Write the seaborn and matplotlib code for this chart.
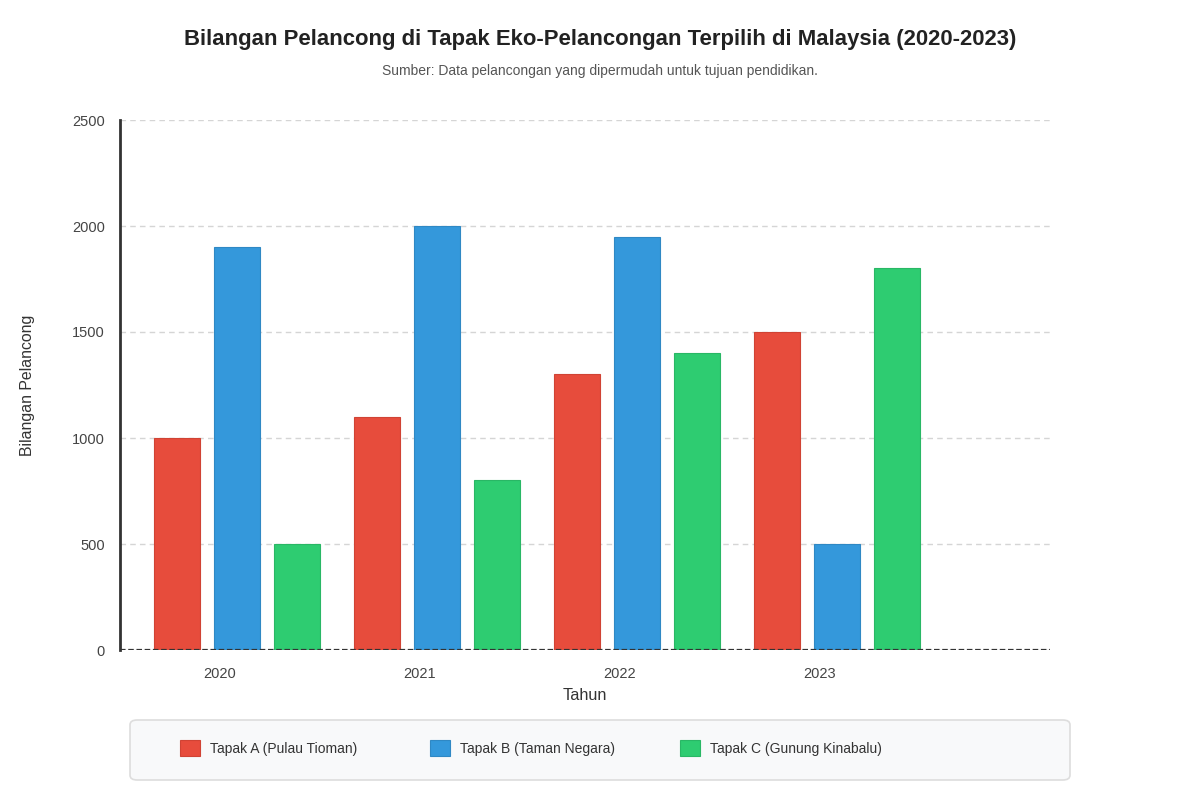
import numpy as np
import pandas as pd
import matplotlib.pyplot as plt
import seaborn as sns
from matplotlib.patches import FancyBboxPatch

# Data
years = ['2020', '2021', '2022', '2023']
sites = ['Tapak A (Pulau Tioman)', 'Tapak B (Taman Negara)', 'Tapak C (Gunung Kinabalu)']
tapak_a = [1000, 1100, 1300, 1500]
tapak_b = [1900, 2000, 1950, 500]
tapak_c = [500, 800, 1400, 1800]
colors = ['#e74c3c', '#3498db', '#2ecc71']
edges = ['#d04334', '#2f88c4', '#29b765']

df = pd.DataFrame({
    'Tahun': years * 3,
    'Tapak': [sites[0]] * 4 + [sites[1]] * 4 + [sites[2]] * 4,
    'Pelancong': tapak_a + tapak_b + tapak_c,
})

sns.set_style('white')
plt.rcParams['font.family'] = ['Liberation Sans', 'DejaVu Sans']

fig = plt.figure(figsize=(12, 8), dpi=100)
ax = fig.add_axes([0.1, 0.1875, 0.775, 0.6625])

sns.barplot(data=df, x='Tahun', y='Pelancong', hue='Tapak', order=years,
            hue_order=sites, palette=colors, saturation=1, width=0.9, gap=0.233,
            legend=False, ax=ax, zorder=3)

# darker outline per series
for cont, ec in zip(ax.containers, edges):
    for bar in cont:
        bar.set_edgecolor(ec)
        bar.set_linewidth(0.8)

# group of bars sits a little right of the year label
shift = 0.085
ax.set_xticks(np.arange(len(years)) - shift)
ax.set_xticklabels(years)
ax.set_xlim(-0.5 - shift, -0.5 - shift + 4.65)
ax.set_ylim(0, 2500)
ax.set_yticks(range(0, 2501, 500))

ax.grid(axis='y', color='#d5d5d5', linestyle=(0, (4, 3)), linewidth=1, zorder=0)
ax.grid(axis='x', visible=False)
for s in ['top', 'right', 'bottom']:
    ax.spines[s].set_visible(False)
ax.spines['left'].set_color('#333333')
ax.spines['left'].set_linewidth(2)
ax.axhline(0, color='#333333', linestyle=(0, (2.5, 1.2)), linewidth=1.6, zorder=4)

ax.tick_params(axis='both', length=0, labelsize=10.5, colors='#444444')
ax.tick_params(axis='y', pad=11)
ax.tick_params(axis='x', pad=12)
ax.set_xlabel('Tahun', fontsize=11.7, color='#333333', labelpad=5)
ax.set_ylabel('Bilangan Pelancong', fontsize=11.4, color='#333333')
ax.yaxis.set_label_coords(-85 / 930, 0.5)

fig.text(0.5, 1 - 40 / 800, 'Bilangan Pelancong di Tapak Eko-Pelancongan Terpilih di Malaysia (2020-2023)',
         ha='center', va='center', fontsize=15.9, fontweight='bold', color='#222222')
fig.text(0.5, 1 - 71 / 800, 'Sumber: Data pelancongan yang dipermudah untuk tujuan pendidikan.',
         ha='center', va='center', fontsize=10, color='#555555')

# legend box
box = FancyBboxPatch((130 / 1200, 1 - 780 / 800), 940 / 1200, 60 / 800,
                     boxstyle='round,pad=0,rounding_size=0.006',
                     transform=fig.transFigure, facecolor='#f8f9fa',
                     edgecolor='#dddddd', linewidth=1.2)
fig.patches.append(box)

# one legend entry per slot, each slot 250 px wide
for i, (site, c, e) in enumerate(zip(sites, colors, edges)):
    h = plt.Rectangle((0, 0), 1, 1, facecolor=c, edgecolor=e, linewidth=0.8)
    fig.legend([h], [site], loc='center left',
               bbox_to_anchor=((180 + 250 * i) / 1200, 1 - 748 / 800),
               frameon=False, fontsize=10, borderpad=0, borderaxespad=0,
               handlelength=1.44, handleheight=1.44, handletextpad=0.72,
               labelcolor='#333333')

fig.savefig('out.png', dpi=100, facecolor='white')
